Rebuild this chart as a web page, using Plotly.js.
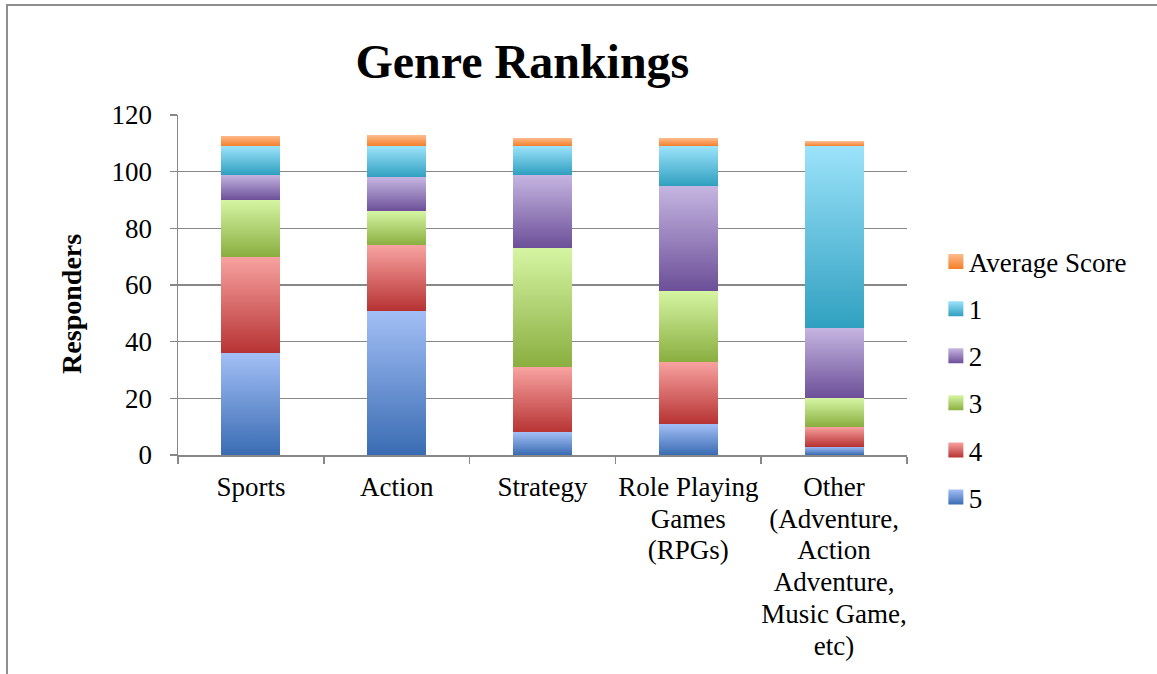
<!DOCTYPE html>
<html><head><meta charset="utf-8">
<script src="https://cdn.plot.ly/plotly-3.0.1.min.js"></script>
<style>
html,body{margin:0;padding:0;background:#fff;}
#wrap{position:relative;width:1157px;height:674px;overflow:hidden;}
#chart{position:absolute;left:0;top:0;width:1157px;height:674px;}
#frame{position:absolute;left:6px;top:4px;width:1200px;height:720px;border-left:2px solid #8e8e8e;border-top:2px solid #8e8e8e;pointer-events:none;}
</style></head><body>
<div id="wrap"><div id="chart"></div><div id="frame"></div></div>
<script>
// ---- data ----
const categories = ['Sports', 'Action', 'Strategy', 'Role Playing Games (RPGs)', 'Other (Adventure, Action Adventure, Music Game, etc)'];
const tickLabels = ['Sports', 'Action', 'Strategy', 'Role Playing<br>Games<br>(RPGs)', 'Other<br>(Adventure,<br>Action<br>Adventure,<br>Music Game,<br>etc)'];
const rank5 = [36, 51, 8, 11, 3];
const rank4 = [34, 23, 23, 22, 7];
const rank3 = [20, 12, 42, 25, 10];
const rank2 = [9, 12, 26, 37, 25];
const rank1 = [10, 11, 10, 14, 64];
const averageScore = [3.71, 3.83, 2.94, 2.81, 1.72];
const seriesNames = ['5', '4', '3', '2', '1', 'Average Score'];
const seriesValues = [rank5, rank4, rank3, rank2, rank1, averageScore];
const yTitle = 'Responders';
const chartTitle = 'Genre Rankings';

// ---- styling ----
const gradTop = ['#a3bff6', '#f8a3a1', '#d6f5a3', '#c6b6e2', '#9ce3fb', '#fdbb8d'];
const gradBottom = ['#3a6cb3', '#b73333', '#8aae40', '#6c4f98', '#30a0c0', '#f47e28'];
const solid = ['#6e95d5', '#d86a69', '#b2d272', '#9a83bd', '#66c2dd', '#f99d5b'];
const FONT = 'Liberation Serif, Times New Roman, serif';

const traces = seriesNames.map((name, i) => ({
  type: 'bar',
  name: name,
  x: categories,
  y: seriesValues[i],
  legendgroup: 'g' + i,
  legendrank: 100 - i,
  marker: {color: solid[i], line: {width: 0}},
  hoverinfo: 'x+y+name'
}));

const layout = {
  width: 1157, height: 674,
  paper_bgcolor: '#ffffff', plot_bgcolor: '#ffffff',
  margin: {l: 178, r: 250, t: 115, b: 219, autoexpand: false},
  barmode: 'stack',
  bargap: 0.595,
  font: {family: FONT, color: '#000000', size: 27},
  title: {
    text: chartTitle,
    font: {family: FONT, size: 48, weight: 'bold', color: '#000'},
    xref: 'container', x: 0.4515, xanchor: 'center',
    yref: 'container', y: 0.909, yanchor: 'middle'
  },
  showlegend: true,
  legend: {
    x: 1.03, xanchor: 'left', y: 0.222, yanchor: 'middle',
    traceorder: 'grouped', tracegroupgap: 9,
    font: {family: FONT, size: 27, color: '#000'},
    bgcolor: 'rgba(0,0,0,0)'
  },
  xaxis: {
    type: 'category',
    tickvals: categories, ticktext: tickLabels, tickangle: 0,
    tickson: 'boundaries', ticks: 'outside', ticklen: 7, tickwidth: 1.5, tickcolor: '#878787',
    showline: true, linecolor: '#878787', linewidth: 1.5,
    showgrid: false, zeroline: false,
    tickfont: {family: FONT, size: 27, color: '#000'},
    ticklabelstandoff: 7
  },
  yaxis: {
    range: [0, 120], dtick: 20, tick0: 0,
    ticks: 'outside', ticklen: 7, tickwidth: 1.5, tickcolor: '#878787',
    showline: true, linecolor: '#878787', linewidth: 1.5,
    showgrid: true, gridcolor: '#878787', gridwidth: 1.5,
    zeroline: false,
    tickfont: {family: FONT, size: 27, color: '#000'},
    ticklabelstandoff: 12
  },
  annotations: [{
    text: yTitle, textangle: -90, showarrow: false,
    xref: 'paper', yref: 'paper', x: -0.147, y: 0.444,
    xanchor: 'center', yanchor: 'middle',
    font: {family: FONT, size: 28, weight: 'bold', color: '#000'}
  }]
};

function decorate(gd) {
  const NS = 'http://www.w3.org/2000/svg';
  const svg = gd.querySelector('.main-svg');
  let defs = svg.querySelector('defs');
  if (!defs) { defs = document.createElementNS(NS, 'defs'); svg.insertBefore(defs, svg.firstChild); }
  gradTop.forEach((c, i) => {
    const lg = document.createElementNS(NS, 'linearGradient');
    lg.setAttribute('id', 'bargrad' + i);
    lg.setAttribute('x1', '0'); lg.setAttribute('y1', '0');
    lg.setAttribute('x2', '0'); lg.setAttribute('y2', '1');
    [[0, c], [1, gradBottom[i]]].forEach(s => {
      const st = document.createElementNS(NS, 'stop');
      st.setAttribute('offset', s[0]);
      st.setAttribute('stop-color', s[1]);
      lg.appendChild(st);
    });
    defs.appendChild(lg);
  });
  gd.querySelectorAll('.barlayer .trace').forEach(t => {
    const d = t.__data__;
    const idx = d && d[0] && d[0].trace ? d[0].trace.index : null;
    if (idx === null) return;
    t.querySelectorAll('path').forEach(p => { p.style.fill = 'url(#bargrad' + idx + ')'; });
  });
  gd.querySelectorAll('.legend .traces').forEach(t => {
    const d = t.__data__;
    const idx = d && d[0] && d[0].trace ? d[0].trace.index : null;
    if (idx === null) return;
    t.querySelectorAll('.legendpoints path').forEach(p => {
      p.setAttribute('d', 'M7.5,7.5H-7.5V-7.5H7.5Z');
      p.style.fill = 'url(#bargrad' + idx + ')';
      p.style.stroke = 'none';
    });
    const sym = t.querySelector('.legendsymbols');
    if (sym) sym.setAttribute('transform', 'translate(7,0)');
  });
  gd.querySelectorAll('.xtick text tspan.line').forEach(ts => {
    const dy = ts.getAttribute('dy');
    if (dy && dy.indexOf('em') > 0) {
      const v = parseFloat(dy);
      ts.setAttribute('dy', (v * 1.175 / 1.3) + 'em');
    }
  });
}

Plotly.newPlot('chart', traces, layout, {displayModeBar: false, staticPlot: true}).then(decorate);
</script>
</body></html>
